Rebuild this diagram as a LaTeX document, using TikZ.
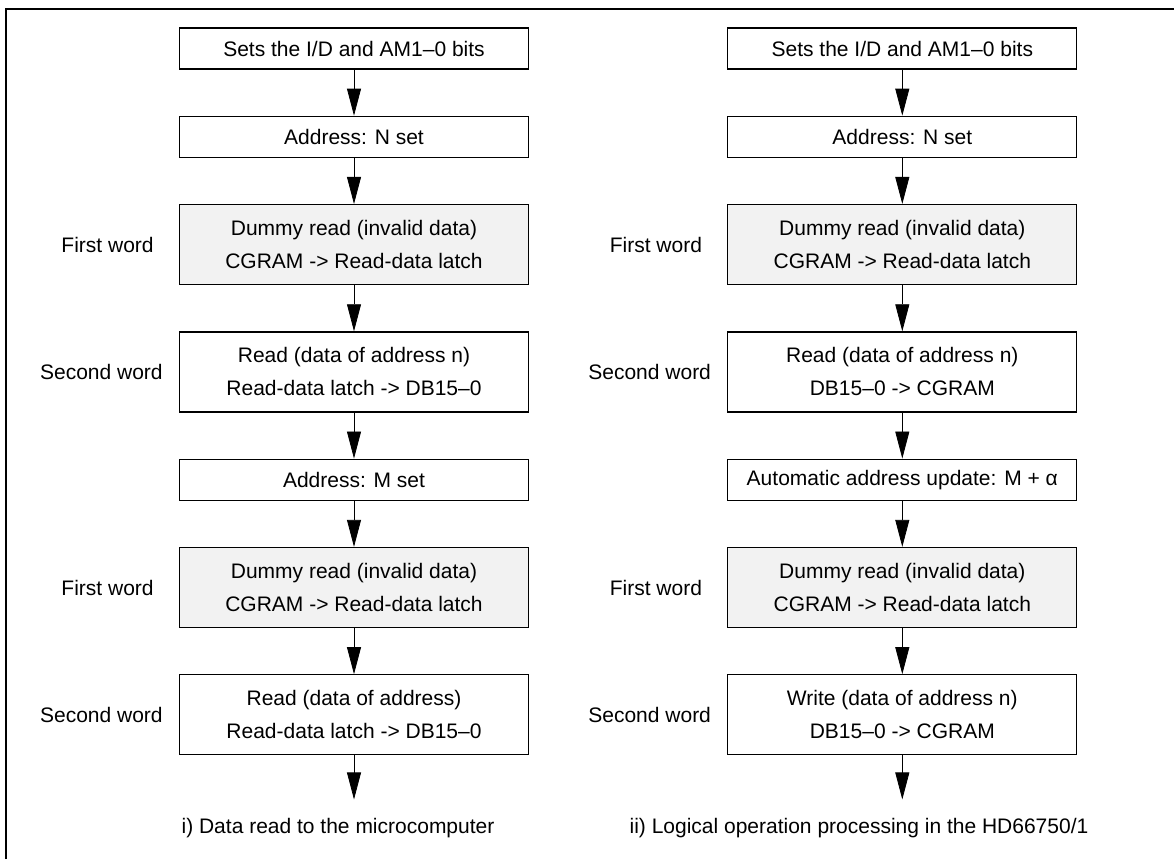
\documentclass[tikz,border=0pt]{standalone}
\usepackage{fontspec}
\setmainfont{Liberation Sans}
\usetikzlibrary{positioning,arrows.meta}

\begin{document}
\begin{tikzpicture}[x=1pt,y=1pt,node distance=46pt,>={Triangle[length=27pt,width=14pt]}]
  \tikzstyle{every node}=[font=\fontsize{21}{33}\selectfont]
  \tikzstyle{box}=[draw,line width=1.3pt,minimum width=349pt,minimum height=41pt,inner sep=2pt,align=center]
  \tikzstyle{dummy}=[box,fill={rgb:black,1;white,18},minimum height=80pt]
  \tikzstyle{word}=[box,minimum height=80pt]
  \tikzstyle{lbl}=[inner sep=0pt]
  \useasboundingbox (0,0) rectangle (1174,-859);
  \draw[line width=1.2pt] (6,-859) -- (6,-9) -- (1174,-9);
  % i) read to the microcomputer
  \node[box] (a_0) at (354,-48.5) {Sets the I/D and AM1--0 bits};
  \node[box] (a_1) [below=of a_0] {Address: N set};
  \node[dummy] (a_2) [below=of a_1] {Dummy read (invalid data)\\CGRAM -> Read-data latch};
  \node[word] (a_3) [below=of a_2] {Read (data of address n)\\Read-data latch -> DB15--0};
  \node[box] (a_4) [below=of a_3] {Address: M set};
  \node[dummy] (a_5) [below=of a_4] {Dummy read (invalid data)\\CGRAM -> Read-data latch};
  \node[word] (a_6) [below=of a_5] {Read (data of address)\\Read-data latch -> DB15--0};
  \coordinate [below=44pt of a_6] (a_7);
  \node[lbl] (la_2) [left=25pt of a_2] {First word};
  \node[lbl] (la_3) [left=16pt of a_3] {Second word};
  \node[lbl] (la_5) [left=25pt of a_5] {First word};
  \node[lbl] (la_6) [left=16pt of a_6] {Second word};
  % ii) logical operation
  \node[box] (b_0) [right=198pt of a_0] {Sets the I/D and AM1--0 bits};
  \node[box] (b_1) [below=of b_0] {Address: N set};
  \node[dummy] (b_2) [below=of b_1] {Dummy read (invalid data)\\CGRAM -> Read-data latch};
  \node[word] (b_3) [below=of b_2] {Read (data of address n)\\DB15--0 -> CGRAM};
  \node[box] (b_4) [below=of b_3] {Automatic address update: M + α};
  \node[dummy] (b_5) [below=of b_4] {Dummy read (invalid data)\\CGRAM -> Read-data latch};
  \node[word] (b_6) [below=of b_5] {Write (data of address n)\\DB15--0 -> CGRAM};
  \coordinate [below=44pt of b_6] (b_7);
  \node[lbl] (lb_2) [left=25pt of b_2] {First word};
  \node[lbl] (lb_3) [left=16pt of b_3] {Second word};
  \node[lbl] (lb_5) [left=25pt of b_5] {First word};
  \node[lbl] (lb_6) [left=16pt of b_6] {Second word};
  \path[->,line width=0.8pt]
  (a_0) edge (a_1)
  (a_1) edge (a_2)
  (a_2) edge (a_3)
  (a_3) edge (a_4)
  (a_4) edge (a_5)
  (a_5) edge (a_6)
  (a_6) edge (a_7)
  (b_0) edge (b_1)
  (b_1) edge (b_2)
  (b_2) edge (b_3)
  (b_3) edge (b_4)
  (b_4) edge (b_5)
  (b_5) edge (b_6)
  (b_6) edge (b_7)
  ;
  \node (cap_a) at (338,-828) {i) Data read to the microcomputer};
  \node (cap_b) at (859,-828) {ii) Logical operation processing in the HD66750/1};
\end{tikzpicture}
\end{document}
